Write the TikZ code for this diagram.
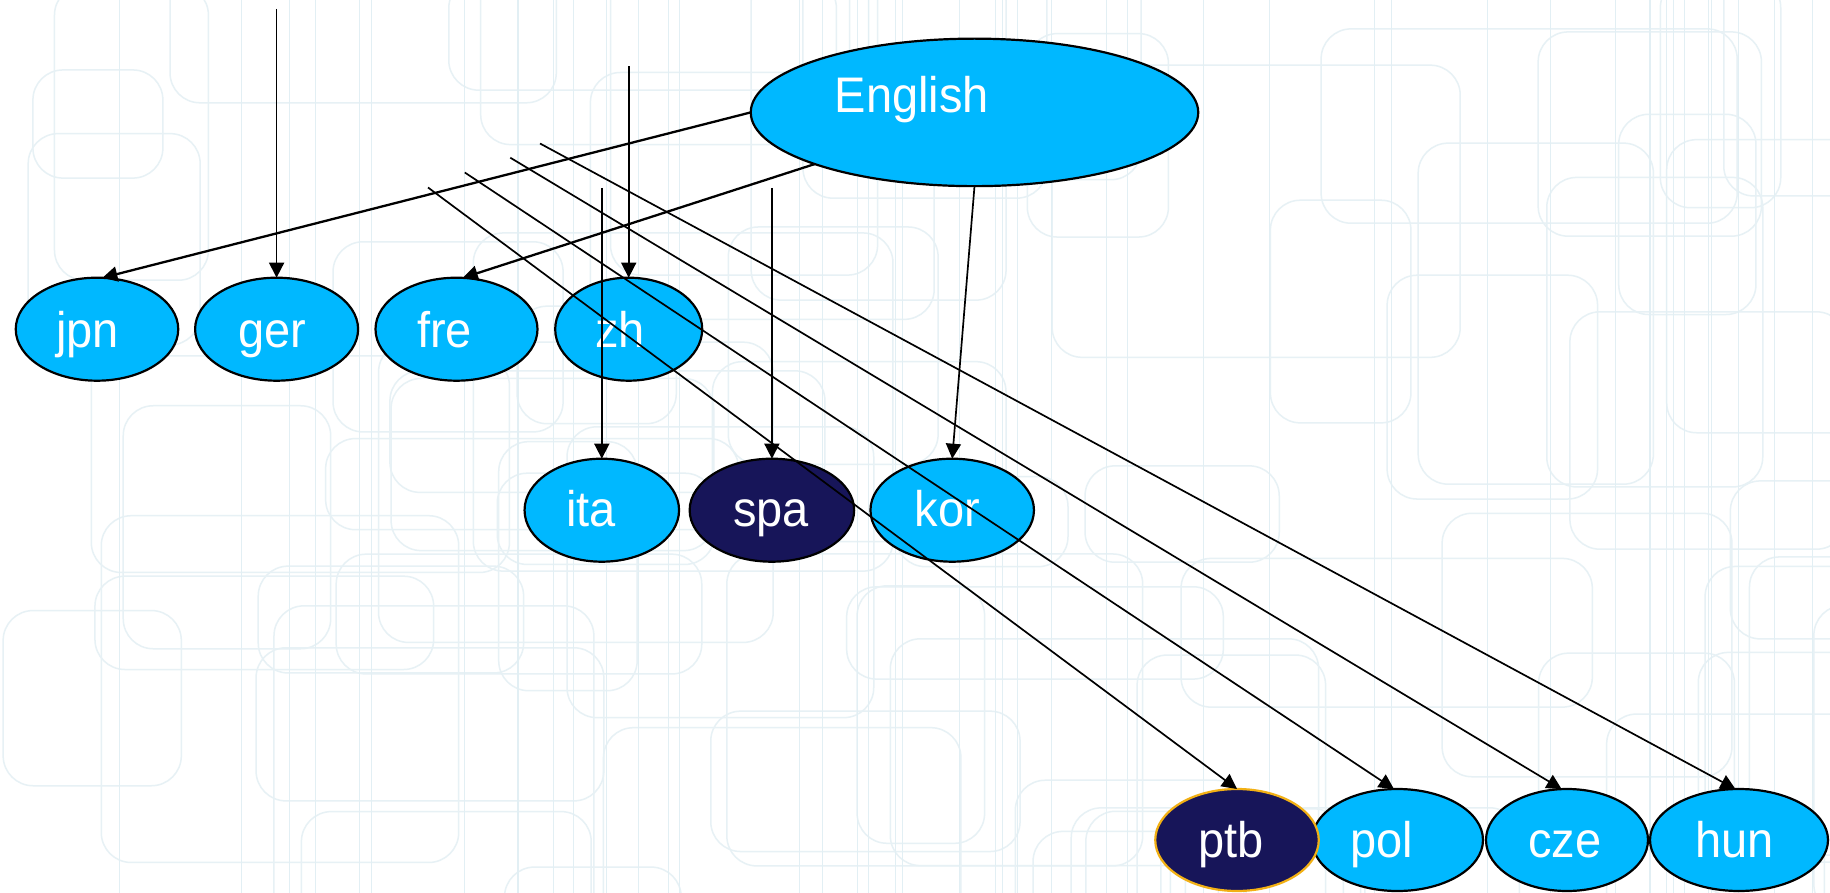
\documentclass[tikz,border=0pt]{standalone}
\usepackage{fontspec}
\setmainfont{Liberation Sans}
\newfontfamily\langfont{Liberation Sans}[FakeStretch=0.94]
\usetikzlibrary{shapes.geometric,arrows.meta,calc}
\definecolor{skyb}{RGB}{0,184,255}
\definecolor{navy}{RGB}{23,21,89}
\definecolor{gold}{RGB}{242,176,20}
\definecolor{bgl}{RGB}{231,241,245}
\definecolor{bgv}{RGB}{226,239,244}
\begin{document}
\begin{tikzpicture}[x=1pt,y=-1pt,
  lang/.style={ellipse, draw=black, line width=2.2pt, fill=skyb, inner sep=0pt, outer sep=0pt, minimum height=103pt},
  dark/.style={fill=navy},
  lab/.style={text=white, font=\langfont\fontsize{50}{60}\selectfont, inner sep=0pt, outer sep=0pt, text height=34pt, text depth=0pt},
  conn/.style={draw=black, line width=1.7pt, -{Triangle[width=15pt,length=15pt]}},
  heavy/.style={conn, line width=2.3pt},
  bgline/.style={draw=bgl, line width=1.5pt, rounded corners=30pt},
  bgvert/.style={draw=bgv, line width=1pt}
]
\fill[white] (0,0) rectangle (1830,893);
\useasboundingbox (0,0) rectangle (1830,893);
% faint background pattern
\begin{scope}
\clip (0,0) rectangle (1830,893);
\pgfmathsetseed{4242}
\foreach \i in {1,...,75}{
  \pgfmathsetmacro{\bx}{rnd*1900-60}
  \pgfmathsetmacro{\by}{rnd*960-60}
  \pgfmathsetmacro{\bw}{120+rnd*320}
  \pgfmathsetmacro{\bh}{90+rnd*260}
  \draw[bgline] (\bx,\by) rectangle ++(\bw,\bh);
}
\foreach \i in {1,...,45}{
  \pgfmathsetmacro{\bx}{rnd*1830}
  \draw[bgvert] (\bx,0) -- (\bx,893);
}
\end{scope}

% nodes
\node[lang, minimum width=447.5pt, minimum height=147.5pt,
      label={[lab, xshift=-62.5pt, yshift=16.4pt]center:English}] (eng) at (974.5,112.4) {};

\node[lang, minimum width=162.5pt, label={[lab, xshift=-9.5pt, yshift=-0.8pt]center:jpn}] (jpn) at (97,329.2) {};
\node[lang, minimum width=163pt, label={[lab, xshift=-4.6pt, yshift=-0.8pt]center:ger}] (ger) at (276.6,329.2) {};
\node[lang, minimum width=162pt, label={[lab, xshift=-12pt, yshift=-0.8pt]center:fre}] (fre) at (456.5,329.2) {};
\node[lang, minimum width=147pt, label={[lab, xshift=-8.7pt, yshift=-0.8pt]center:zh}] (zh) at (628.7,329.2) {};

\node[lang, minimum width=154.5pt, label={[lab, xshift=-10.8pt, yshift=1.2pt]center:ita}] (ita) at (601.8,510.2) {};
\node[lang, dark, minimum width=164.5pt, label={[lab, xshift=-1pt, yshift=1.2pt]center:spa}] (spa) at (771.9,510.2) {};
\node[lang, minimum width=163.5pt, label={[lab, xshift=-5pt, yshift=1.2pt]center:kor}] (kor) at (952.2,510.2) {};

\node[lang, minimum width=171pt, minimum height=102pt, label={[lab, xshift=-15.5pt]center:pol}] (pol) at (1397.5,840) {};
\node[lang, dark, draw=gold, minimum width=163.5pt, minimum height=102pt, label={[lab, xshift=-6pt]center:ptb}] (ptb) at (1237,840) {};
\node[lang, minimum width=162pt, minimum height=102pt, label={[lab, xshift=-2pt]center:cze}] (cze) at (1567,840) {};
\node[lang, minimum width=178pt, minimum height=102pt, label={[lab, xshift=-4.5pt]center:hun}] (hun) at (1739,840) {};

% free starting points of connectors
\coordinate (sger) at (276.6,9);
\coordinate (szh)  at (628.7,66.5);
\coordinate (sita) at (601.8,188);
\coordinate (sspa) at (771.9,188);
\coordinate (sptb) at (428,187.5);
\coordinate (spol) at (464.8,172.5);
\coordinate (scze) at (510.3,157.7);
\coordinate (shun) at (540,143.5);

% connectors
\draw[heavy] (eng.west) -- (jpn.84);
\draw[heavy] (eng) -- (fre.83);
\draw[conn] (eng.south) -- (kor.north);
\draw[conn] (sger) -- (ger.north);
\draw[conn] (szh) -- (zh.north);
\draw[conn] (sita) -- (ita.north);
\draw[conn] (sspa) -- (spa.north);
\draw[conn] (sptb) -- (ptb.north);
\draw[conn] (spol) -- (pol.94);
\draw[conn] (scze) -- (cze.96);
\draw[conn] (shun) -- (hun.94);
\end{tikzpicture}
\end{document}
